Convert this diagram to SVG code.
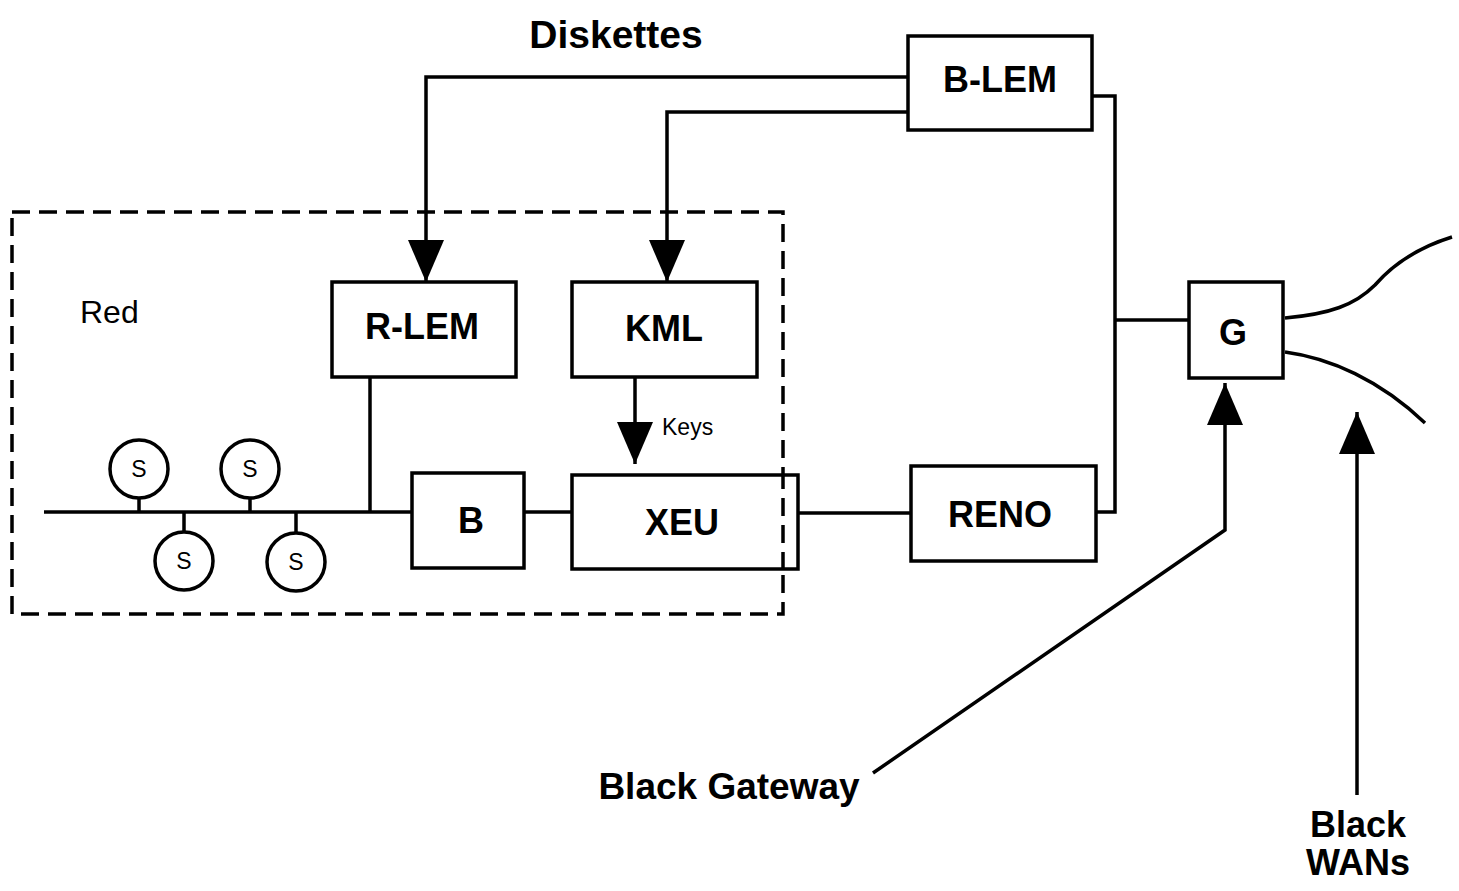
<svg xmlns="http://www.w3.org/2000/svg" width="1459" height="891" viewBox="0 0 1459 891">
<style>
.box{fill:#fff;stroke:#000;stroke-width:3.5}
.ln{fill:none;stroke:#000;stroke-width:3.5}
.dash{fill:none;stroke:#000;stroke-width:3.5;stroke-dasharray:18 9}
.lb{font-family:"Liberation Sans",Arial,sans-serif;font-weight:bold;font-size:36px;text-anchor:middle;fill:#000}
.rg{font-family:"Liberation Sans",Arial,sans-serif;fill:#000}
.s{font-family:"Liberation Sans",Arial,sans-serif;font-size:23px;text-anchor:middle;fill:#000}
</style>
<defs>
<marker id="ah" markerUnits="userSpaceOnUse" markerWidth="42" markerHeight="36" refX="42" refY="18" orient="auto" viewBox="0 0 42 36">
<path d="M0,0 L42,18 L0,36 Z" fill="#000"/>
</marker>
</defs>
<rect width="1459" height="891" fill="#fff"/>
<g id="red-zone">
<rect class="dash" x="12" y="212" width="771" height="402"/>
<text class="rg" x="80" y="323" style="font-size:32px">Red</text>
</g>
<g id="connectors">
<path class="ln" d="M908,77 H426 V282" marker-end="url(#ah)"/>
<path class="ln" d="M908,112 H667 V282" marker-end="url(#ah)"/>
<path class="ln" d="M1092,96 H1115 V512 H1096"/>
<path class="ln" d="M1115,320 H1189"/>
<path class="ln" d="M370,377 V512"/>
<path class="ln" d="M44,512 H412"/>
<path class="ln" d="M524,512 H572"/>
<path class="ln" d="M635,377 V464" marker-end="url(#ah)"/>
<path class="ln" d="M798,513 H911"/>
<path class="ln" d="M873,773 L1225,530 V383" marker-end="url(#ah)"/>
<path class="ln" d="M1357,795 V412" marker-end="url(#ah)"/>
<path class="ln" d="M1285,318 C1330,314 1355,305 1375,285 C1395,262 1420,247 1452,237"/>
<path class="ln" d="M1285,352 C1330,358 1380,380 1425,423"/>
<path class="ln" d="M139,499 V512 M250,499 V512 M184,512 V531 M296,512 V532"/>
</g>
<g id="s1"><circle class="box" cx="139" cy="469" r="29"/><text class="s" x="139" y="477">S</text></g>
<g id="s2"><circle class="box" cx="250" cy="469" r="29"/><text class="s" x="250" y="477">S</text></g>
<g id="s3"><circle class="box" cx="184" cy="561" r="29"/><text class="s" x="184" y="569">S</text></g>
<g id="s4"><circle class="box" cx="296" cy="562" r="29"/><text class="s" x="296" y="570">S</text></g>
<g id="blem"><rect class="box" x="908" y="36" width="184" height="94"/><text class="lb" x="1000" y="92">B-LEM</text></g>
<g id="rlem"><rect class="box" x="332" y="282" width="184" height="95"/><text class="lb" x="422" y="339">R-LEM</text></g>
<g id="kml"><rect class="box" x="572" y="282" width="185" height="95"/><text class="lb" x="664" y="341">KML</text></g>
<g id="b"><rect class="box" x="412" y="473" width="112" height="95"/><text class="lb" x="471" y="533">B</text></g>
<g id="xeu"><rect class="box" x="572" y="475" width="226" height="94"/><text class="lb" x="682" y="535">XEU</text></g>
<path class="dash" d="M783,475 V569" stroke-dashoffset="4"/>
<g id="reno"><rect class="box" x="911" y="466" width="185" height="95"/><text class="lb" x="1000" y="527">RENO</text></g>
<g id="g"><rect class="box" x="1189" y="282" width="94" height="96"/><text class="lb" x="1233" y="345">G</text></g>
<g id="labels">
<text class="lb" x="616" y="48" style="font-size:39px">Diskettes</text>
<text class="rg" x="662" y="435" style="font-size:23px">Keys</text>
<text class="lb" x="729" y="799" style="font-size:37px">Black Gateway</text>
<text class="lb" x="1358" y="837">Black</text>
<text class="lb" x="1358" y="875">WANs</text>
</g>
</svg>
